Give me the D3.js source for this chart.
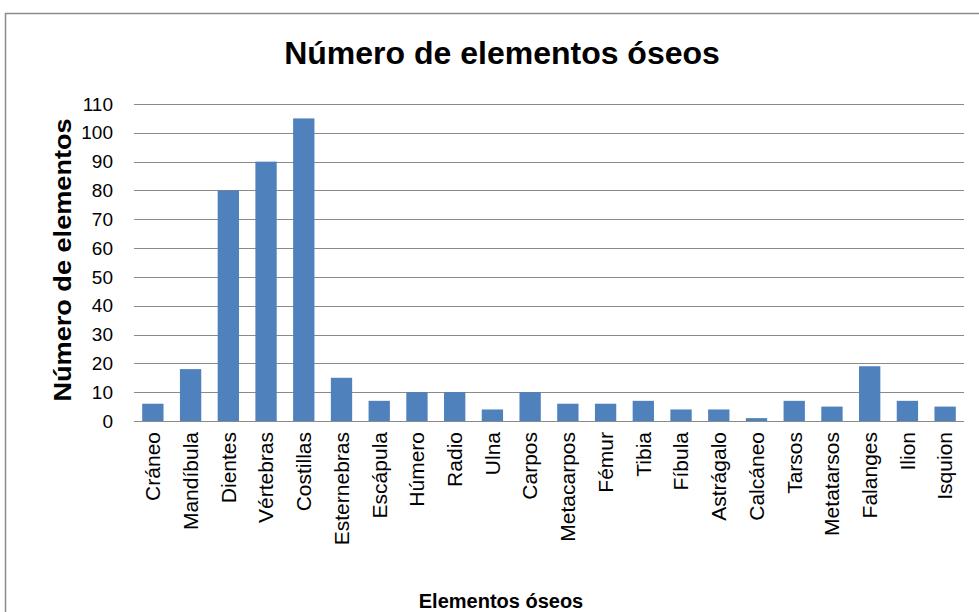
<!DOCTYPE html>
<html>
<head>
<meta charset="utf-8">
<script src="https://cdn.jsdelivr.net/npm/d3@7"></script>
<style>
  html, body { margin: 0; padding: 0; background: #fff; }
  svg { display: block; font-family: "Liberation Sans", Arial, sans-serif; }
</style>
</head>
<body>
<svg id="chart" width="979" height="612"></svg>
<script>
// Bone elements and their counts
const categories = ["Cráneo", "Mandíbula", "Dientes", "Vértebras", "Costillas", "Esternebras",
  "Escápula", "Húmero", "Radio", "Ulna", "Carpos", "Metacarpos", "Fémur", "Tibia", "Fíbula",
  "Astrágalo", "Calcáneo", "Tarsos", "Metatarsos", "Falanges", "Ilion", "Isquion"];
const counts = [6, 18, 80, 90, 105, 15, 7, 10, 10, 4, 10, 6, 6, 7, 4, 4, 1, 7, 5, 19, 7, 5];
const yTicks = [0, 10, 20, 30, 40, 50, 60, 70, 80, 90, 100, 110];

const titleText = "Número de elementos óseos";
const yTitle = "Número de elementos";
const xTitle = "Elementos óseos";

const svg = d3.select("#chart");
const plot = { left: 134, right: 964, top: 104, bottom: 421 };

// Outer frame (runs off the right and bottom edges)
svg.append("rect")
  .attr("x", 5.5).attr("y", 13.5)
  .attr("width", 1000).attr("height", 700)
  .attr("fill", "none").attr("stroke", "#8c8c8c").attr("stroke-width", 1.5);

const x = d3.scaleBand()
  .domain(categories)
  .range([plot.left, plot.right])
  .paddingInner(0.435)
  .paddingOuter(0.2175);

const y = d3.scaleLinear()
  .domain([0, 110])
  .range([plot.bottom, plot.top]);

// Horizontal gridlines
svg.append("g")
  .selectAll("line")
  .data(yTicks.filter(t => t > 0))
  .join("line")
  .attr("x1", plot.left).attr("x2", plot.right)
  .attr("y1", d => Math.round(y(d)) + 0.5).attr("y2", d => Math.round(y(d)) + 0.5)
  .attr("stroke", "#8a8a8a").attr("stroke-width", 1);

// Bars
svg.append("g")
  .selectAll("rect")
  .data(counts)
  .join("rect")
  .attr("x", (d, i) => x(categories[i]))
  .attr("width", x.bandwidth())
  .attr("y", d => y(d))
  .attr("height", d => y(0) - y(d))
  .attr("fill", "#4f81bd");

// Category axis line
svg.append("line")
  .attr("x1", plot.left).attr("x2", plot.right)
  .attr("y1", Math.round(y(0)) + 0.5).attr("y2", Math.round(y(0)) + 0.5)
  .attr("stroke", "#8a8a8a").attr("stroke-width", 1);

// Value axis labels
const yAxis = d3.axisLeft(y).tickValues(yTicks).tickSize(0).tickPadding(0);
const yg = svg.append("g")
  .attr("transform", `translate(113,0)`)
  .call(yAxis);
yg.select(".domain").remove();
yg.selectAll("text")
  .attr("font-size", 19)
  .attr("font-family", "Liberation Sans, Arial, sans-serif")
  .attr("fill", "#000");

// Category labels, rotated
const xAxis = d3.axisBottom(x).tickSize(0).tickPadding(0);
const xg = svg.append("g")
  .attr("transform", `translate(0,${plot.bottom})`)
  .call(xAxis);
xg.select(".domain").remove();
xg.selectAll("text")
  .attr("font-size", 21)
  .attr("font-family", "Liberation Sans, Arial, sans-serif")
  .attr("fill", "#000")
  .attr("text-anchor", "end")
  .attr("dy", "0.35em")
  .attr("transform", "translate(0,11) rotate(-90)")
  .attr("x", 0).attr("y", 0);

// Chart title
svg.append("text")
  .attr("x", 502).attr("y", 64)
  .attr("text-anchor", "middle")
  .attr("font-size", 32).attr("font-weight", "bold")
  .text(titleText);

// Value axis title
svg.append("text")
  .attr("transform", "translate(71,260) rotate(-90) scale(1.13,1)")
  .attr("text-anchor", "middle")
  .attr("font-size", 24).attr("font-weight", "bold")
  .text(yTitle);

// Category axis title
svg.append("text")
  .attr("x", 501).attr("y", 608)
  .attr("text-anchor", "middle")
  .attr("font-size", 20).attr("font-weight", "bold")
  .text(xTitle);
</script>
</body>
</html>
